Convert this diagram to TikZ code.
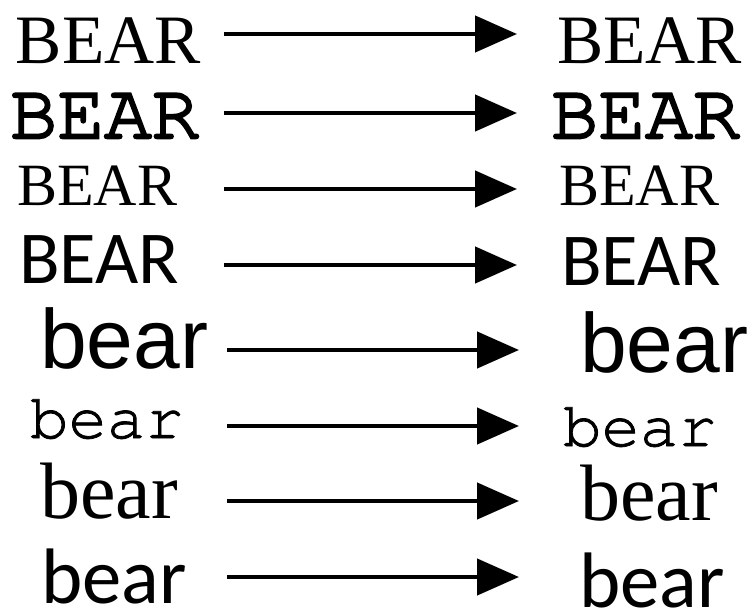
\documentclass[tikz,border=0pt]{standalone}
\usepackage{fontspec}
\usetikzlibrary{arrows.meta}
\newfontfamily\fserif{Liberation Serif}
\newfontfamily\fmono{texgyrecursor-regular}[Extension=.otf,FakeBold=1.2]
\newfontfamily\fmonob{texgyrecursor-regular}[Extension=.otf,FakeBold=3.2]
\newfontfamily\fsans{Liberation Sans}
\newfontfamily\fcarl{Carlito}
\newcommand\fsz[1]{\fontsize{#1}{#1}\selectfont}
\begin{document}
\begin{tikzpicture}[x=0.75pt,y=-0.75pt,
  txt/.style={inner sep=0pt, outer sep=0pt, anchor=base west},
  arr/.style={line width=3.4pt, -{Triangle[length=31.5pt,width=27pt]}}]
\useasboundingbox (0,0) rectangle (756,614);
% row 1
\node[txt] (l1) at (16,63) {\fserif\fsz{52}BEAR};
\node[txt] (r1) at (557,63) {\fserif\fsz{52}BEAR};
% row 2
\node[txt] (l2) at (10,138) {\fmonob\fsz{59}BEAR};
\node[txt] (r2) at (551,138) {\fmonob\fsz{59}BEAR};
% row 3
\node[txt] (l3) at (17,205) {\fserif\fsz{45}BEAR};
\node[txt] (r3) at (559,205) {\fserif\fsz{45}BEAR};
% row 4
\node[txt] (l4) at (19,283) {\fcarl\fsz{56}BEAR};
\node[txt] (r4) at (561,285) {\fcarl\fsz{56}BEAR};
% row 5
\node[txt] (l5) at (40,368) {\fsans\fsz{63}bear};
\node[txt] (r5) at (580,372) {\fsans\fsz{63}bear};
% row 6
\node[txt] (l6) at (30,438) {\fmono\fsz{48}bear};
\node[txt] (r6) at (563,446) {\fmono\fsz{48}bear};
% row 7
\node[txt] (l7) at (40,518) {\fserif\fsz{60}bear};
\node[txt] (r7) at (580,520) {\fserif\fsz{60}bear};
% row 8
\node[txt] (l8) at (41,603) {\fcarl\fsz{59}bear};
\node[txt] (r8) at (579,607) {\fcarl\fsz{59}bear};
% arrow ends
\foreach \i/\y/\a/\b in {1/34/224/517, 2/113/224/517, 3/189/224/517, 4/265/224/517,
                         5/350/227/519, 6/426/227/519, 7/501/227/519, 8/577/227/519}{
  \coordinate (s\i) at (\a,\y);
  \coordinate (e\i) at (\b,\y);
  \draw[arr] (s\i) -- (e\i);
}
\end{tikzpicture}
\end{document}
